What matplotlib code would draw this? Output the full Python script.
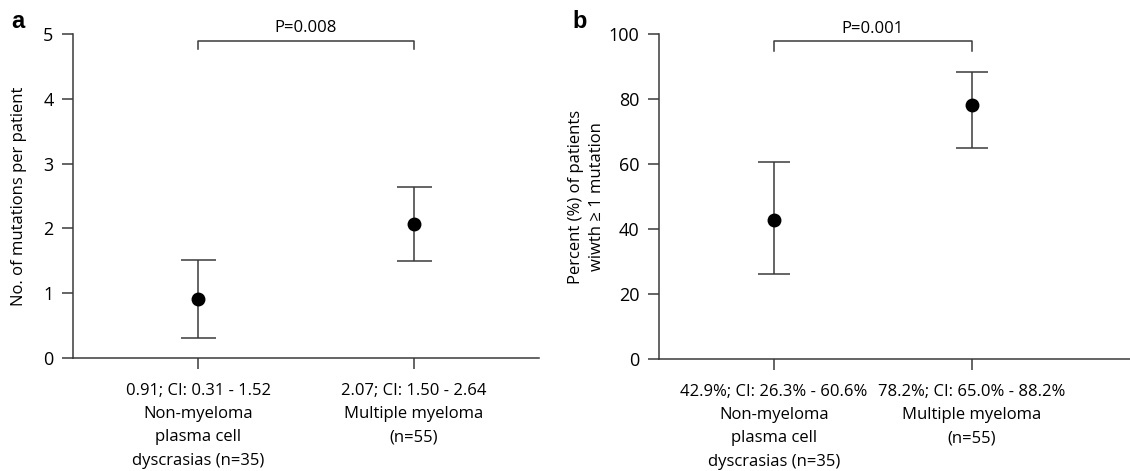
import numpy as np
import matplotlib
matplotlib.use("Agg")
import matplotlib.pyplot as plt

plt.rcParams['font.family'] = ['Open Sans', 'DejaVu Sans']

# panel a: mutations per patient
groups = ["Non-myeloma\nplasma cell\ndyscrasias (n=35)", "Multiple myeloma\n(n=55)"]
a_mean = [0.91, 2.07]
a_low = [0.31, 1.50]
a_high = [1.52, 2.64]
a_text = ["0.91; CI: 0.31 - 1.52", "2.07; CI: 1.50 - 2.64"]
a_p = "P=0.008"

# panel b: percent of patients with >= 1 mutation
b_mean = [42.9, 78.2]
b_low = [26.3, 65.0]
b_high = [60.6, 88.2]
b_text = ["42.9%; CI: 26.3% - 60.6%", "78.2%; CI: 65.0% - 88.2%"]
b_p = "P=0.001"

line_col = "#3a3a3a"
fs = 12

fig = plt.figure(figsize=(11.3, 4.71), dpi=100)
ax_a = fig.add_axes([0.0646, 0.2399, 0.4124, 0.6879])
ax_b = fig.add_axes([0.5832, 0.2378, 0.4168, 0.6900])


def draw_panel(ax, mean, low, high, texts, ptxt, ymax, yticks, xlim, capsize,
               br_y, br_drop, p_y):
    x = np.arange(len(mean))
    mean = np.array(mean)
    yerr = [mean - np.array(low), np.array(high) - mean]
    ax.errorbar(x, mean, yerr=yerr, fmt="o", color="black", ecolor=line_col,
                elinewidth=1.1, capsize=capsize, capthick=1.1, markersize=9,
                clip_on=False, zorder=3)
    ax.set_xlim(*xlim)
    ax.set_ylim(0, ymax)
    ax.set_yticks(yticks)
    ax.set_xticks(x)
    ax.set_xticklabels([t + "\n" + g for t, g in zip(texts, groups)],
                       linespacing=1.6, fontsize=fs)
    ax.tick_params(axis="y", length=8, width=1.1, color=line_col, labelsize=fs + 1, pad=6)
    ax.tick_params(axis="x", length=8, width=1.1, color=line_col, labelsize=fs, pad=10)
    for s in ["top", "right"]:
        ax.spines[s].set_visible(False)
    for s in ["left", "bottom"]:
        ax.spines[s].set_color(line_col)
        ax.spines[s].set_linewidth(1.1)
    # significance bracket
    ax.plot([x[0], x[0], x[1], x[1]], [br_drop, br_y, br_y, br_drop],
            color=line_col, lw=1.1, clip_on=False)
    ax.text((x[0] + x[1]) / 2, p_y, ptxt, ha="center", va="center",
            fontsize=fs)


draw_panel(ax_a, a_mean, a_low, a_high, a_text, a_p, 5, range(0, 6),
           (-0.579, 1.579), 12.6, 4.897, 4.77, 5.1)
ax_a.set_ylabel("No. of mutations per patient", fontsize=fs, labelpad=12)

draw_panel(ax_b, b_mean, b_low, b_high, b_text, b_p, 100, range(0, 101, 20),
           (-0.58, 1.8), 11.5, 97.8, 94.9, 101.6)
ax_b.set_ylabel("Percent (%) of patients\nwiwth \u2265 1 mutation", fontsize=fs,
                labelpad=3, linespacing=1.35)

fig.text(0.0097, 0.955, "a", fontsize=17, fontweight="bold", family="Liberation Sans",
         ha="left", va="center")
fig.text(0.507, 0.955, "b", fontsize=17, fontweight="bold", family="Liberation Sans",
         ha="left", va="center")

fig.savefig("out.png", dpi=100)
